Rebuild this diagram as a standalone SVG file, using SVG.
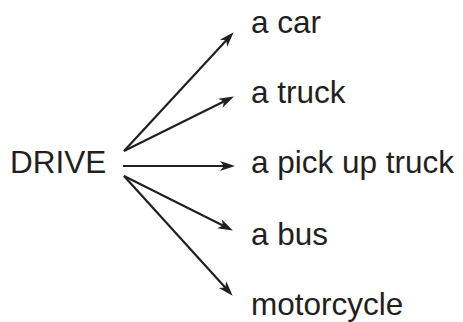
<svg xmlns="http://www.w3.org/2000/svg" width="463" height="322" viewBox="0 0 463 322">
<style>
text{font-family:"Liberation Sans",Arial,sans-serif;font-size:31.5px;fill:#231f20}
.c line{stroke:#231f20;stroke-width:2.2;marker-end:url(#ah)}
</style>
<defs>
<marker id="ah" markerUnits="userSpaceOnUse" markerWidth="14" markerHeight="10" refX="10" refY="5" orient="auto" overflow="visible">
<path d="M0,0 L15,5 L0,10 L4,5 z" fill="#231f20"/>
</marker>
</defs>
<rect width="463" height="322" fill="#fff"/>
<g id="drive"><text x="10" y="173">DRIVE</text></g>
<g id="car"><text x="251" y="33">a car</text></g>
<g id="truck"><text x="251" y="103">a truck</text></g>
<g id="pickup"><text x="251" y="173">a pick up truck</text></g>
<g id="bus"><text x="251" y="245">a bus</text></g>
<g id="motorcycle"><text x="251" y="315">motorcycle</text></g>
<g id="connectors" class="c">
<line x1="124" y1="151" x2="230.3" y2="35.9"/>
<line x1="124" y1="151" x2="229.4" y2="98.8"/>
<line x1="123" y1="166" x2="230" y2="166"/>
<line x1="124" y1="176" x2="228.4" y2="228.2"/>
<line x1="124" y1="176" x2="229.3" y2="292"/>
</g>
</svg>
